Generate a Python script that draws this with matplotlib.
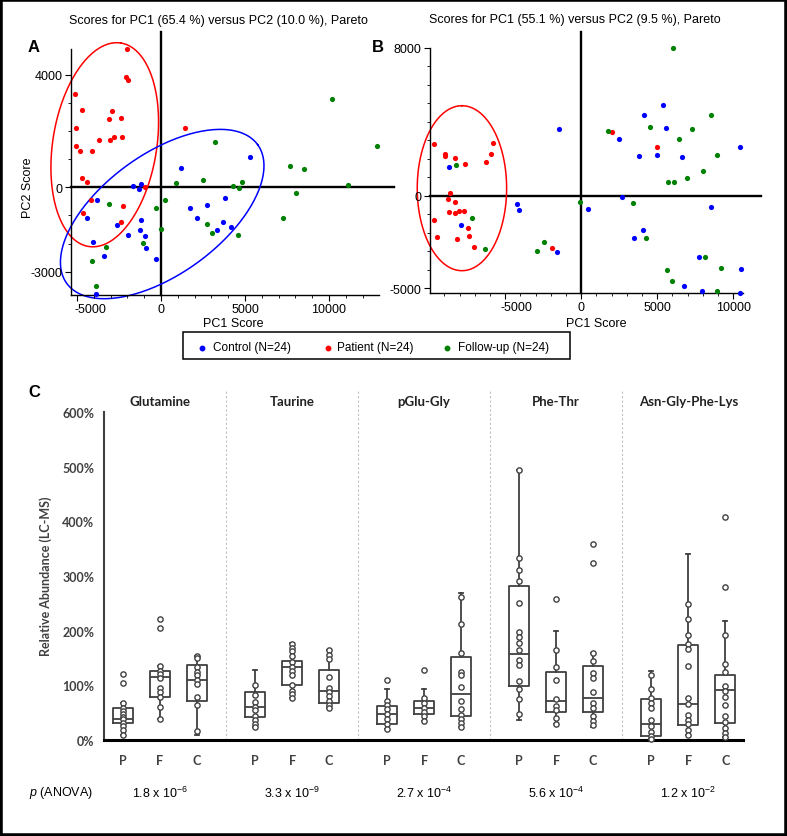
import numpy as np
import matplotlib
matplotlib.use("Agg")
import matplotlib.pyplot as plt
from matplotlib.lines import Line2D
from matplotlib.patches import Rectangle
from matplotlib.ticker import MultipleLocator
from matplotlib.transforms import ScaledTranslation

plt.rcParams['font.family'] = ['Liberation Sans', 'DejaVu Sans']
plt.rcParams['axes.unicode_minus'] = False
plt.rcParams['mathtext.fontset'] = 'custom'
plt.rcParams['mathtext.rm'] = 'Liberation Sans'
plt.rcParams['mathtext.it'] = 'Liberation Sans:italic'

# ---------------- Panel A data (PCA scores) ----------------
A_control_x = [5298, 1210, -1647, -1329, -1171, -3810, -4385, 3829, 1706, 2718, 2123, 3671,
               3353, 4147, -2639, -1190, -1270, -1984, -972, -913, -4067, -3373, -278, -3849]
A_control_y = [1079, 677, 36, -50, 118, -463, -1081, -381, -726, -630, -1081, -1225,
               -1509, -1425, -1353, -1153, -1531, -1688, -1746, -2162, -1960, -2458, -2542, -3800]
A_patient_x = [-2024, -2083, -1946, -5137, -4685, -2917, -3115, -2401, -5041, -3690, -2798, -3054,
               -2302, -5077, -4839, -4107, -4720, -4405, -935, -4147, -4643, -2282, -2401, 1429]
A_patient_y = [4925, 3917, 3833, 3312, 2742, 2717, 2432, 2480, 2100, 1695, 1780, 1695,
               1780, 1470, 1282, 1303, 331, 189, 21, -463, -915, -677, -1225, 2100]
A_follow_x = [10159, 12837, 3234, 7698, 8512, 11111, 8036, 7282, 873, 2500, 4286, 4623,
              4841, 218, -278, 0, 2758, 3056, 4603, -3095, -1071, -3274, -4107, -3869]
A_follow_y = [3157, 1460, 1602, 747, 652, 71, -214, -1081, 142, 249, 46, -25,
              199, -452, -748, -1474, -1307, -1638, -1709, -605, -1994, -2137, -2614, -3504]

# ---------------- Panel B data (PCA scores) ----------------
B_control_x = [-8684, -7895, -4230, -4079, -1467, -1579, 461, 2658, 2480, 3776, 4125, 5355,
               5572, 5000, 6645, 10421, 8533, 4059, 3447, 7724, 10507, 6757, 7921, 10441]
B_control_y = [1535, -1568, -465, -789, 3589, -3043, -719, -86, 3049, 2130, 4378, 4919,
               3659, 2200, 2076, 2632, -595, -1854, -2270, -3330, -3962, -4865, -5151, -5276]
B_patient_x = [-9691, -8987, -8987, -8289, -7632, -6289, -5961, -5829, -8638, -8770, -8289, -8684,
               -8289, -8026, -7737, -9691, -7454, -9513, -8178, -7368, -7079, -1908, 2020, 5000]
B_patient_y = [2778, 2238, 2130, 2038, 1730, 1822, 2238, 2849, 146, -195, -357, -897,
               -935, -827, -827, -1330, -1762, -2232, -2341, -2178, -2773, -2843, 3459, 2649]
B_follow_x = [6053, 8513, 4520, 7283, 6408, 1737, 8947, 7987, 6954, 5684, 6099, -8224,
              -7211, -6355, -2474, -2934, -86, 3382, 4276, 8138, 9211, 5658, 5947, 8947]
B_follow_y = [7984, 4362, 3730, 3622, 3081, 3497, 2184, 1335, 957, 757, 741, 1676,
              -1222, -2897, -2503, -3005, -324, -378, -2270, -3330, -3892, -4016, -4627, -5151]

legend_labels = ['Control (N=24)', 'Patient (N=24)', 'Follow-up (N=24)']
group_colors = ['#0000ff', '#ff0000', '#008000']

# ---------------- Panel C data (relative abundance, %) ----------------
metabolites = ['Glutamine', 'Taurine', 'pGlu-Gly', 'Phe-Thr', 'Asn-Gly-Phe-Lys']
groups = ['P', 'F', 'C']
p_mantissa = ['1.8', '3.3', '2.7', '5.6', '1.2']
p_exponent = ['-6', '-9', '-4', '-4', '-2']

box_q1 = [32, 79, 71, 42, 101, 68, 30, 48, 44, 98, 52, 51, 7, 28, 32]
box_med = [38, 116, 110, 61, 134, 89, 47, 59, 85, 157, 72, 76, 29, 65, 91]
box_q3 = [58, 127, 138, 87, 145, 128, 62, 71, 152, 282, 125, 135, 75, 174, 118]
box_wlo = [10, 38, 10, 23, 76, 58, 20, 35, 23, 37, 29, 23, 2, 9, 5]
box_whi = [68, 136, 154, 128, 177, 165, 93, 93, 269, 493, 199, 159, 126, 341, 217]

box_points = [
    [120, 105, 67, 58, 53, 47, 42, 38, 32, 26, 18, 10],
    [221, 204, 136, 127, 121, 113, 96, 87, 79, 60, 38],
    [154, 150, 133, 124, 118, 110, 102, 78, 64, 17],
    [100, 82, 69, 61, 54, 44, 37, 30, 23],
    [175, 169, 163, 154, 142, 134, 127, 118, 100, 90, 84, 76],
    [165, 155, 148, 116, 95, 87, 80, 72, 64, 58],
    [109, 72, 64, 57, 47, 38, 29, 21],
    [128, 77, 68, 59, 52, 43, 35],
    [261, 213, 159, 125, 118, 97, 72, 57, 46, 38, 31, 23],
    [493, 332, 311, 290, 250, 197, 188, 177, 165, 147, 137, 107, 93, 75, 48],
    [258, 165, 134, 110, 75, 63, 54, 41, 29],
    [358, 324, 159, 145, 122, 113, 88, 68, 58, 44, 35, 27],
    [119, 93, 76, 68, 59, 37, 26, 15, 7, 2],
    [249, 221, 192, 175, 166, 136, 76, 65, 46, 37, 29, 19, 9],
    [408, 279, 192, 139, 125, 99, 90, 78, 64, 44, 33, 22, 13, 5],
]

# ---------------- figure ----------------
W, H = 787, 837
fig = plt.figure(figsize=(W / 100, H / 100), dpi=100)


def add_ax(l, t, r, b):
    return fig.add_axes([l / W, 1 - b / H, (r - l) / W, (b - t) / H])


def ellipse(ax, cx, cy, a_px, b_px, ang, color):
    t = np.linspace(0, 2 * np.pi, 300)
    c = ax.transData.transform((cx, cy))
    th = np.deg2rad(ang)
    ex = a_px * np.cos(t)
    ey = b_px * np.sin(t)
    dx = c[0] + ex * np.cos(th) - ey * np.sin(th)
    dy = c[1] + ex * np.sin(th) + ey * np.cos(th)
    pts = ax.transData.inverted().transform(np.column_stack([dx, dy]))
    ax.plot(pts[:, 0], pts[:, 1], color=color, lw=1.1, clip_on=False, zorder=1)


def score_axes(ax, xlim, ylim, xt, yt, hext, vext, first_shift_px):
    ax.set_xlim(*xlim)
    ax.set_ylim(*ylim)
    for s in ['top', 'right']:
        ax.spines[s].set_visible(False)
    for s in ['left', 'bottom']:
        ax.spines[s].set_linewidth(1.0)
    ax.set_xticks(xt)
    ax.set_yticks(yt)
    ax.yaxis.set_minor_locator(MultipleLocator(1000))
    ax.xaxis.set_minor_locator(MultipleLocator(1000))
    ax.tick_params(which='major', length=4, width=0.8, labelsize=9, pad=2)
    ax.tick_params(which='minor', length=2, width=0.6)
    ax.plot([xlim[0], hext], [0, 0], color='black', lw=1.7, clip_on=False, zorder=1)
    ax.plot([0, 0], [ylim[0], vext], color='black', lw=1.7, clip_on=False, zorder=1)
    ax.set_facecolor('none')
    # the leftmost (negative) x label sits shifted right in the original
    tk = ax.xaxis.get_major_ticks(len(xt))[0]
    tk.label1.set_transform(tk.label1.get_transform() +
                            ScaledTranslation(first_shift_px / 100, 0, fig.dpi_scale_trans))


# Panel A
axA = add_ax(71, 50, 379, 295.7)
score_axes(axA, (-5360, 12980), (-3820, 4920), [-5000, 0, 5000, 10000], [-3000, 0, 4000], 13870, 5530, 13)
for xs, ys, c in zip([A_control_x, A_patient_x, A_follow_x], [A_control_y, A_patient_y, A_follow_y], group_colors):
    axA.scatter(xs, ys, s=14, color=c, zorder=3, clip_on=False, linewidths=0)
ellipse(axA, -3351, 1514, 103, 52, 81, '#ff0000')
ellipse(axA, 71, -951, 118, 60, 36, '#0000ff')

# Panel B
axB = add_ax(430, 49, 743, 294)
score_axes(axB, (-9950, 10640), (-5270, 8000), [-5000, 0, 5000, 10000], [-5000, 0, 8000], 11820, 8870, 11)
for xs, ys, c in zip([B_control_x, B_patient_x, B_follow_x], [B_control_y, B_patient_y, B_follow_y], group_colors):
    axB.scatter(xs, ys, s=14, color=c, zorder=3, clip_on=False, linewidths=0)
ellipse(axB, -7849, 406, 82.5, 44.7, 90, '#ff0000')

fig.text(218 / W, 1 - 21 / H, 'Scores for PC1 (65.4 %) versus PC2 (10.0 %), Pareto', ha='center', va='center', fontsize=9)
fig.text(575 / W, 1 - 20 / H, 'Scores for PC1 (55.1 %) versus PC2 (9.5 %), Pareto', ha='center', va='center', fontsize=9)
fig.text(233 / W, 1 - 324 / H, 'PC1 Score', ha='center', va='center', fontsize=9)
fig.text(596 / W, 1 - 324 / H, 'PC1 Score', ha='center', va='center', fontsize=9)
fig.text(28 / W, 1 - 188 / H, 'PC2 Score', ha='center', va='center', fontsize=9, rotation=90)
for lab, (x, y) in zip(['A', 'B', 'C'], [(34, 47), (378, 47), (34, 393)]):
    fig.text(x / W, 1 - y / H, lab, ha='center', va='center', fontsize=12, fontweight='bold')

# Legend (boxed, one row)
fig.patches.append(Rectangle((183 / W, 1 - 360 / H), (570 - 183) / W, 27 / H, transform=fig.transFigure,
                             fill=False, lw=1.1, ec='black'))
for lab, c, xd, xt in zip(legend_labels, group_colors, [201.7, 328, 447], [213, 337, 458]):
    fig.add_artist(Line2D([xd / W], [1 - 349 / H], marker='o', ls='', color=c, markersize=3.2,
                          transform=fig.transFigure))
    fig.text(xt / W, 1 - 348.5 / H, lab, ha='left', va='center', fontsize=8.5)

# Panel C
cfont = 'Lato'
gray = '#404040'
step = 3.57
axC = add_ax(104, 391, 743, 741)
axC.set_xlim(-0.514, 16.76)
axC.set_ylim(0, 640)
positions = [g * step + j for g in range(len(metabolites)) for j in range(len(groups))]
stats = []
for i in range(len(positions)):
    stats.append(dict(med=box_med[i], q1=box_q1[i], q3=box_q3[i],
                      whislo=box_wlo[i], whishi=box_whi[i], fliers=[]))
lp = dict(color=gray, linewidth=1.3)
axC.bxp(stats, positions=positions, widths=0.55, capwidths=0.12, showfliers=False,
        boxprops=lp, whiskerprops=lp, capprops=lp, medianprops=lp, manage_ticks=False)
for pos, pts in zip(positions, box_points):
    axC.plot([pos] * len(pts), pts, ls='', marker='o', markersize=3.8, markerfacecolor='white',
             markeredgecolor=gray, markeredgewidth=1.0, zorder=4, clip_on=False)
for g in range(len(metabolites) - 1):
    axC.axvline(g * step + 2 + (step - 2) / 2, color='#c0c0c0', lw=0.8, ls=(0, (2, 2)), zorder=0)
for g, name in enumerate(metabolites):
    axC.text(g * step + 1, 619, name, ha='center', va='center', fontsize=9.5,
             fontweight='bold', family=cfont, color='#222222')
for s in ['top', 'right']:
    axC.spines[s].set_visible(False)
axC.spines['left'].set_bounds(0, 600)
axC.spines['left'].set_color(gray)
axC.spines['left'].set_linewidth(1.5)
axC.spines['bottom'].set_color('black')
axC.spines['bottom'].set_linewidth(2.2)
axC.set_yticks(range(0, 601, 100))
axC.set_yticklabels([f'{v}%' for v in range(0, 601, 100)])
axC.set_xticks(positions)
axC.set_xticklabels(groups * len(metabolites))
axC.tick_params(axis='both', length=0, labelsize=9, colors=gray)
axC.tick_params(axis='y', pad=7)
axC.tick_params(axis='x', pad=10)
for lab in axC.get_xticklabels() + axC.get_yticklabels():
    lab.set_fontweight('bold')
    lab.set_family(cfont)
fig.text(45.7 / W, 1 - 576 / H, 'Relative Abundance (LC-MS)', ha='center', va='center', rotation=90,
         fontsize=9, fontweight='bold', family=cfont, color=gray)
axC.set_facecolor('none')

fig.text(61 / W, 1 - 793 / H, r'$\mathit{p}$ (ANOVA)', ha='center', va='center', fontsize=9)
for g, (m, e) in enumerate(zip(p_mantissa, p_exponent)):
    xd = axC.transData.transform((g * step + 1, 0))[0] / W
    fig.text(xd, 1 - 793 / H, m + r' x 10$^{\mathregular{' + e + '}}$', ha='center', va='center', fontsize=9)

fig.patches.append(Rectangle((0, 0), 1, 1, transform=fig.transFigure, fill=False, lw=4, ec='black'))

fig.savefig('out.png', dpi=100)
